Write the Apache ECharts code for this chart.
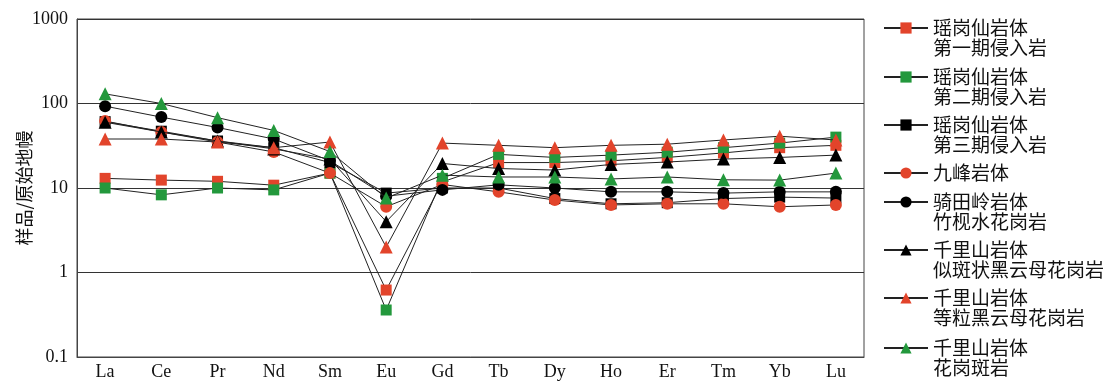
<!DOCTYPE html>
<html><head><meta charset="utf-8">
<script src="https://cdn.jsdelivr.net/npm/echarts@6/dist/echarts.min.js"></script>
<style>html,body{margin:0;padding:0;background:#fff}#c{width:1108px;height:383px}</style>
</head><body><div id="c"></div>
<script>
const categories = ['La','Ce','Pr','Nd','Sm','Eu','Gd','Tb','Dy','Ho','Er','Tm','Yb','Lu'];
const yTickLabels = ['0.1','1','10','100','1000'];
const seriesNames = [
  '瑶岗仙岩体\n第一期侵入岩',
  '瑶岗仙岩体\n第二期侵入岩',
  '瑶岗仙岩体\n第三期侵入岩',
  '九峰岩体',
  '骑田岭岩体\n竹枧水花岗岩',
  '千里山岩体\n似斑状黑云母花岗岩',
  '千里山岩体\n等粒黑云母花岗岩',
  '千里山岩体\n花岗斑岩'
];
const yaoPhase1 = [13, 12.4, 12, 10.8, 15, 0.62, 11.8, 20, 20, 21, 23, 26, 30, 32];
const yaoPhase2 = [10, 8.3, 10, 9.5, 15, 0.36, 13, 25, 23, 24.5, 26.5, 30, 34, 40];
const yaoPhase3 = [61, 47, 36, 30, 20, 8.7, 10, 10, 7.5, 6.5, 6.7, 7.5, 7.8, 7.6];
const jiufeng = [62, 46, 35, 26.7, 15, 6, 11, 9, 7.2, 6.3, 6.5, 6.5, 6, 6.3];
const qitianling = [93, 69, 52, 38, 21, 8, 9.5, 10.9, 10, 9, 9, 8.7, 9, 9];
const qianliPorphyritic = [60, 46, 36, 29, 22, 4, 19.5, 17, 16.3, 19, 20.3, 22, 23, 24.5];
const qianliEquigranular = [38, 38, 35, 30, 35, 2, 34, 32, 30, 32, 33, 37, 41, 37];
const qianliPorphyry = [130, 100, 68, 48, 27, 7.6, 14.2, 13.5, 13.5, 12.8, 13.5, 12.5, 12.4, 15];

const RED = '#e2442b', GREEN = '#23983c', BLACK = '#000';
const styles = [
  {sym:'rect', size:11, color:RED},
  {sym:'rect', size:11, color:GREEN},
  {sym:'rect', size:11, color:BLACK},
  {sym:'circle', size:12, color:RED},
  {sym:'circle', size:12, color:BLACK},
  {sym:'triangle', size:13, color:BLACK},
  {sym:'triangle', size:13, color:RED},
  {sym:'triangle', size:13, color:GREEN}
];
const allData = [yaoPhase1, yaoPhase2, yaoPhase3, jiufeng, qitianling, qianliPorphyritic, qianliEquigranular, qianliPorphyry];

const series = allData.map((d, i) => ({
  name: seriesNames[i], type: 'line', data: d,
  symbol: styles[i].sym, symbolSize: styles[i].size,
  itemStyle: {color: styles[i].color},
  lineStyle: {color: '#222', width: 1},
  emphasis: {disabled: true}, animation: false, z: 2 + i
}));

const legendFirstLineY = [28, 77, 125, 173, 202, 250, 298, 348];
const legends = seriesNames.map((n, i) => {
  const twoLine = n.indexOf('\n') >= 0;
  return {
    data: [n], orient: 'vertical', left: 883,
    top: twoLine ? legendFirstLineY[i] - 30 : legendFirstLineY[i] - 10,
    padding: 0, itemWidth: 44, itemHeight: 14, itemGap: 0, selectedMode: false,
    formatter: nm => (nm.indexOf('\n') >= 0 ? ' \n' : '') + nm,
    textStyle: {fontFamily: 'Noto Sans CJK SC', fontSize: 19, color: '#111', lineHeight: 20}
  };
});

const chart = echarts.init(document.getElementById('c'), null, {renderer: 'canvas'});
chart.setOption({
  animation: false,
  backgroundColor: '#fff',
  grid: {left: 77, right: 244, top: 19, bottom: 26, show: true, borderColor: '#444', borderWidth: 1},
  legend: legends,
  xAxis: {
    type: 'category', data: categories, boundaryGap: true,
    axisLine: {lineStyle: {color: '#444', width: 1}},
    axisTick: {inside: true, length: 6, lineStyle: {color: '#444'}},
    axisLabel: {fontFamily: 'Liberation Serif', fontSize: 18, color: '#111', margin: 6},
    splitLine: {show: false}
  },
  yAxis: {
    type: 'log', logBase: 10, min: 0.1, max: 1000,
    name: '样品/原始地幔', nameLocation: 'middle', nameGap: 44, nameMoveOverlap: false,
    nameTextStyle: {fontFamily: 'Noto Sans CJK SC', fontSize: 18, color: '#111'},
    axisLine: {show: true, lineStyle: {color: '#444'}},
    axisTick: {show: false},
    axisLabel: {fontFamily: 'Liberation Serif', fontSize: 18, color: '#111', margin: 9,
      formatter: v => { const i = Math.round(Math.log10(v)) + 1; return yTickLabels[i] !== undefined ? yTickLabels[i] : String(v); }},
    splitLine: {show: true, lineStyle: {color: '#333', width: 1}}
  },
  series: series
});
</script></body></html>
